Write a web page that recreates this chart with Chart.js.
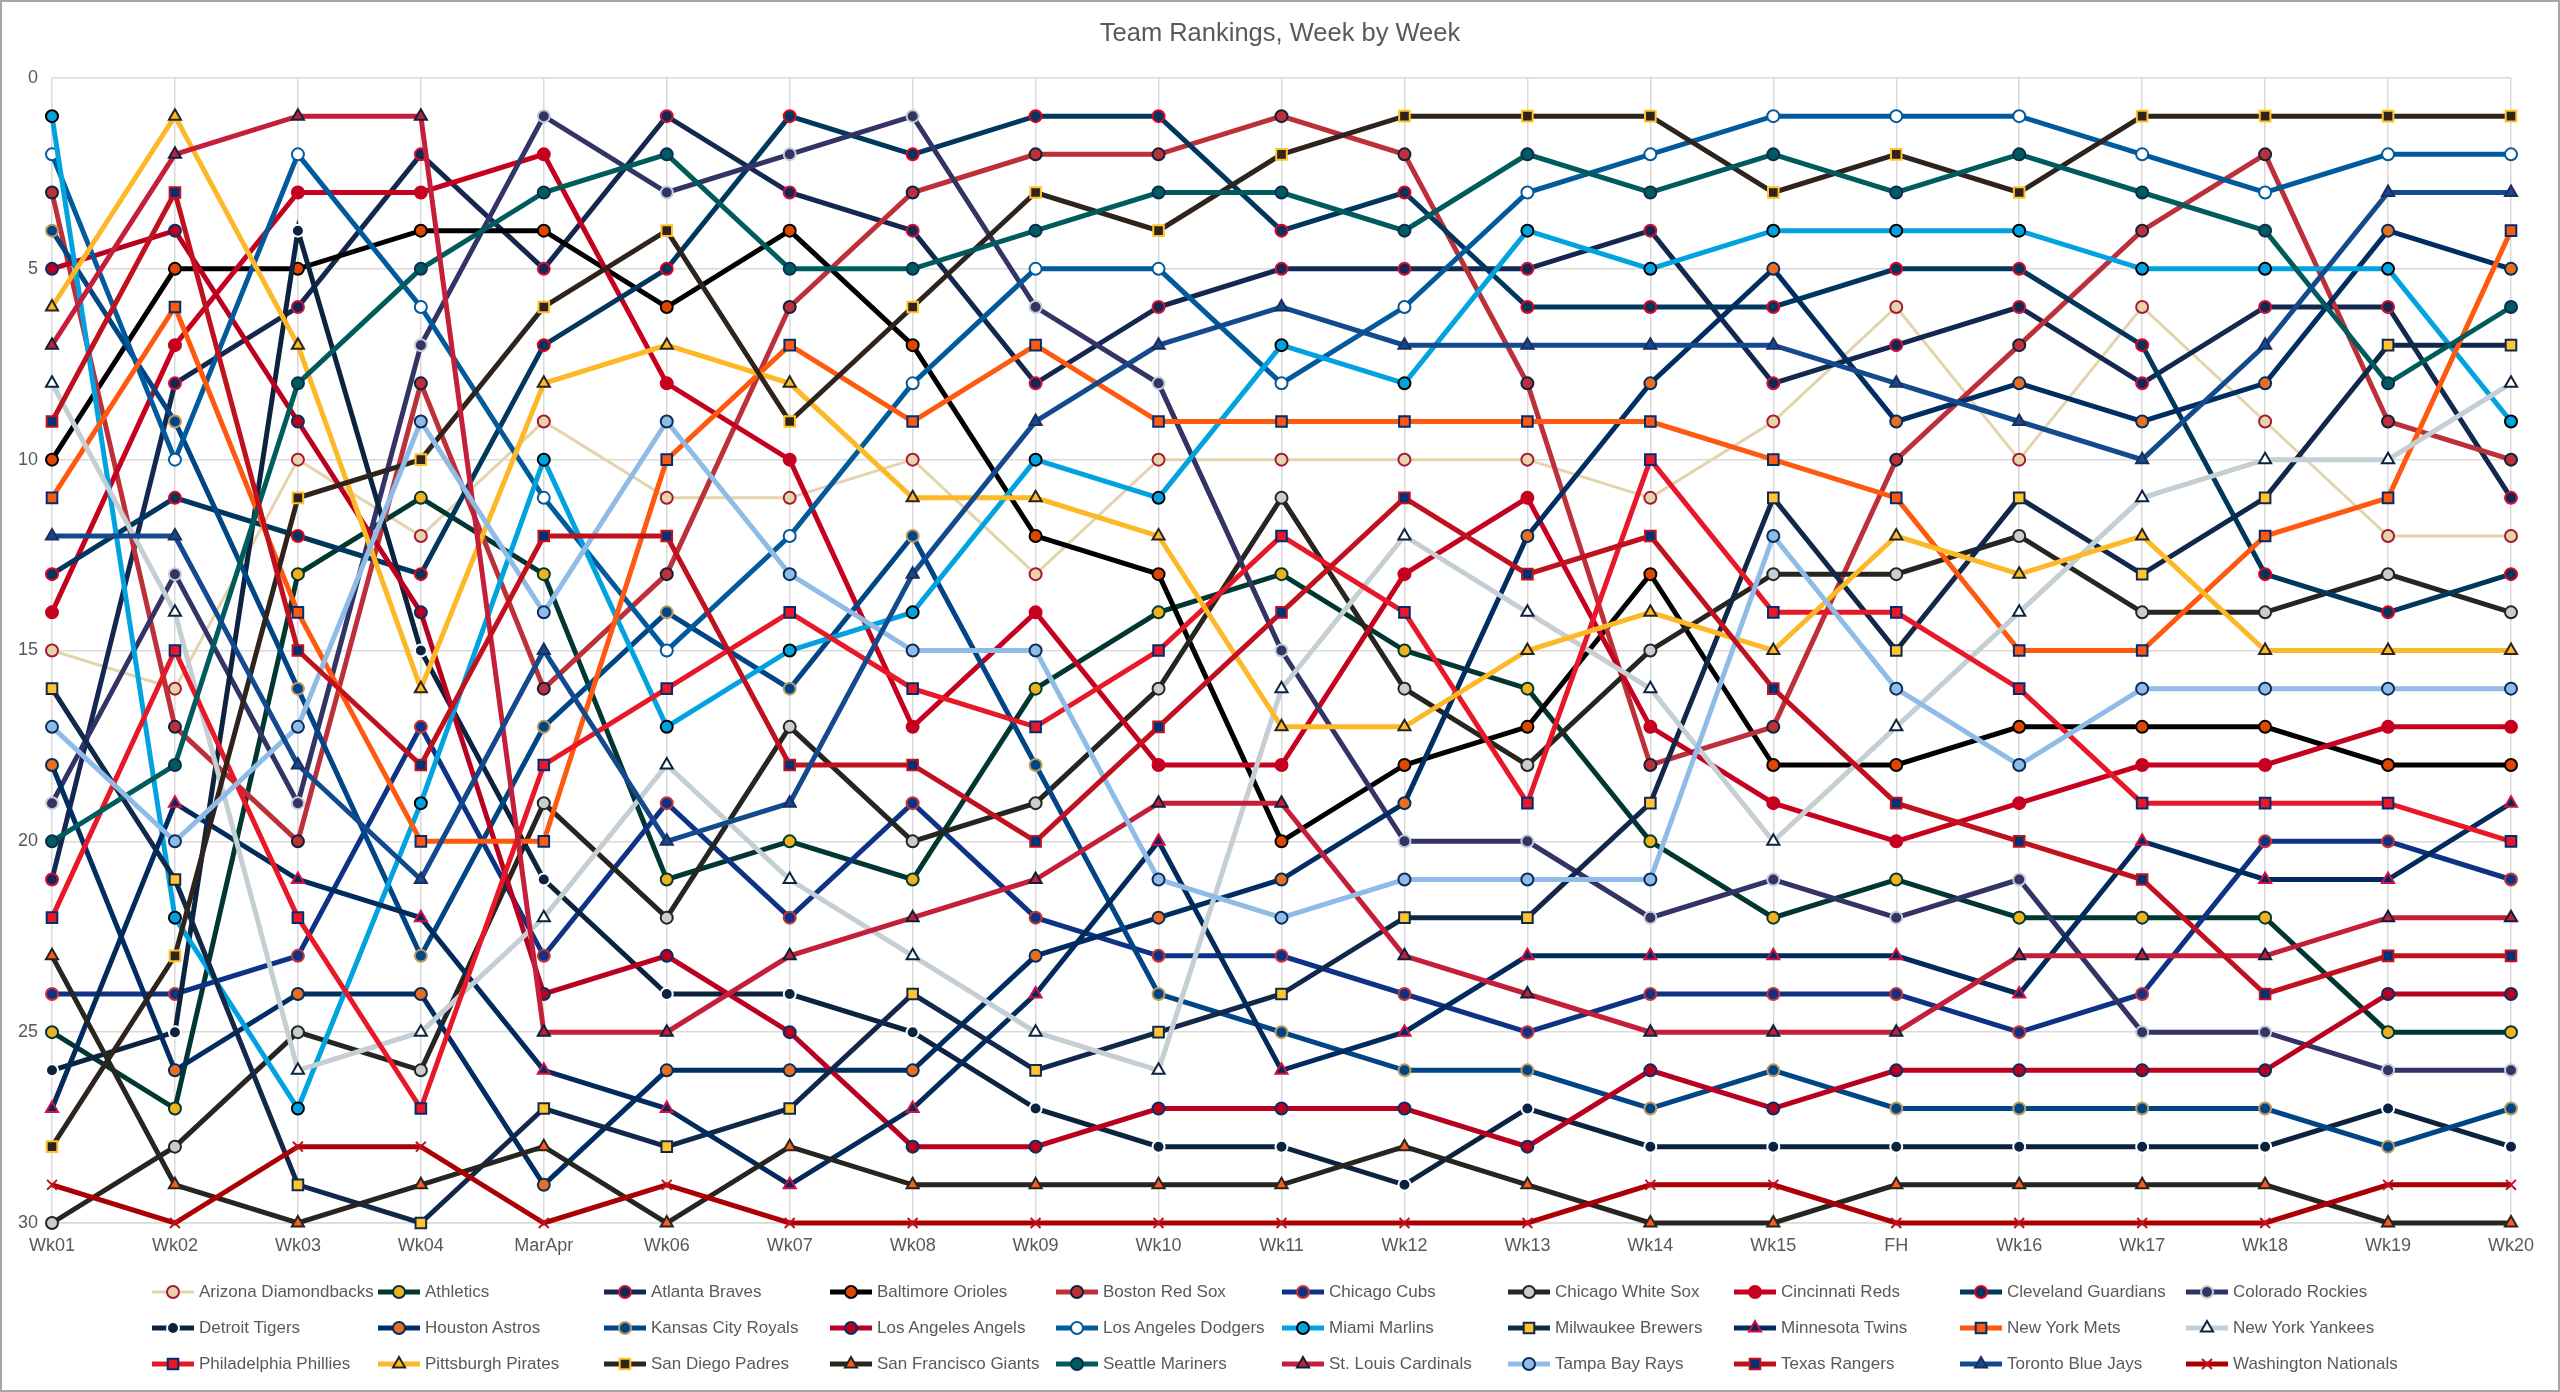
<!DOCTYPE html>
<html>
<head>
<meta charset="utf-8">
<title>Team Rankings, Week by Week</title>
<script src="https://cdn.jsdelivr.net/npm/chart.js@4/dist/chart.umd.min.js"></script>
<style>
  html, body { margin: 0; padding: 0; background: #fff; }
  #wrap { position: relative; width: 2560px; height: 1392px; overflow: hidden; background: #fff; }
  #rankChart { position: absolute; left: 0; top: 0; }
  #frame { position: absolute; left: 0; top: 0; right: 0; bottom: 0; border: 2px solid #a6a6a6; pointer-events: none; }
  #legend { position: absolute; left: 150px; top: 1274px; display: grid; grid-template-columns: repeat(10, 226px); }
  .item { height: 36px; display: flex; align-items: center; white-space: nowrap;
          font: 17px "Liberation Sans Narrow", "Liberation Sans", sans-serif; color: #595959; }
  .item canvas { margin-right: 3px; flex: none; }
</style>
</head>
<body>
<div id="wrap">
  <canvas id="rankChart" width="2560" height="1392"></canvas>
  <div id="legend"></div>
  <div id="frame"></div>
</div>
<script>
// weekly power rankings, 1 = best
const weeks = ['Wk01', 'Wk02', 'Wk03', 'Wk04', 'MarApr', 'Wk06', 'Wk07', 'Wk08', 'Wk09', 'Wk10', 'Wk11',
               'Wk12', 'Wk13', 'Wk14', 'Wk15', 'FH', 'Wk16', 'Wk17', 'Wk18', 'Wk19', 'Wk20'];

const arizona    = [15, 16, 10, 12,  9, 11, 11, 10, 13, 10, 10, 10, 10, 11,  9,  6, 10,  6,  9, 12, 12];
const athletics  = [25, 27, 13, 11, 13, 21, 20, 21, 16, 14, 13, 15, 16, 20, 22, 21, 22, 22, 22, 25, 25];
const atlanta    = [21,  8,  6,  2,  5,  1,  3,  4,  8,  6,  5,  5,  5,  4,  8,  7,  6,  8,  6,  6, 11];
const baltimore  = [10,  5,  5,  4,  4,  6,  4,  7, 12, 13, 20, 18, 17, 13, 18, 18, 17, 17, 17, 18, 18];
const boston     = [ 3, 17, 20,  8, 16, 13,  6,  3,  2,  2,  1,  2,  8, 18, 17, 10,  7,  4,  2,  9, 10];
const cubs       = [24, 24, 23, 17, 23, 19, 22, 19, 22, 23, 23, 24, 25, 24, 24, 24, 25, 24, 20, 20, 21];
const whiteSox   = [30, 28, 25, 26, 19, 22, 17, 20, 19, 16, 11, 16, 18, 15, 13, 13, 12, 14, 14, 13, 14];
const cincinnati = [14,  7,  3,  3,  2,  8, 10, 17, 14, 18, 18, 13, 11, 17, 19, 20, 19, 18, 18, 17, 17];
const cleveland  = [13, 11, 12, 13,  7,  5,  1,  2,  1,  1,  4,  3,  6,  6,  6,  5,  5,  7, 13, 14, 13];
const colorado   = [19, 13, 19,  7,  1,  3,  2,  1,  6,  8, 15, 20, 20, 22, 21, 22, 21, 25, 25, 26, 26];
const detroit    = [26, 25,  4, 15, 21, 24, 24, 25, 27, 28, 28, 29, 27, 28, 28, 28, 28, 28, 28, 27, 28];
const houston    = [18, 26, 24, 24, 29, 26, 26, 26, 23, 22, 21, 19, 12,  8,  5,  9,  8,  9,  8,  4,  5];
const kansasCity = [ 4,  9, 16, 23, 17, 14, 16, 12, 18, 24, 25, 26, 26, 27, 26, 27, 27, 27, 27, 28, 27];
const angels     = [ 5,  4,  9, 14, 24, 23, 25, 28, 28, 27, 27, 27, 28, 26, 27, 26, 26, 26, 26, 24, 24];
const dodgers    = [ 2, 10,  2,  6, 11, 15, 12,  8,  5,  5,  8,  6,  3,  2,  1,  1,  1,  2,  3,  2,  2];
const miami      = [ 1, 22, 27, 19, 10, 17, 15, 14, 10, 11,  7,  8,  4,  5,  4,  4,  4,  5,  5,  5,  9];
const milwaukee  = [16, 21, 29, 30, 27, 28, 27, 24, 26, 25, 24, 22, 22, 19, 11, 15, 11, 13, 11,  7,  7];
const minnesota  = [27, 19, 21, 22, 26, 27, 29, 27, 24, 20, 26, 25, 23, 23, 23, 23, 24, 20, 21, 21, 19];
const mets       = [11,  6, 14, 20, 20, 10,  7,  9,  7,  9,  9,  9,  9,  9, 10, 11, 15, 15, 12, 11,  4];
const yankees    = [ 8, 14, 26, 25, 22, 18, 21, 23, 25, 26, 16, 12, 14, 16, 20, 17, 14, 11, 10, 10,  8];
const phillies   = [22, 15, 22, 27, 18, 16, 14, 16, 17, 15, 12, 14, 19, 10, 14, 14, 16, 19, 19, 19, 20];
const pittsburgh = [ 6,  1,  7, 16,  8,  7,  8, 11, 11, 12, 17, 17, 15, 14, 15, 12, 13, 12, 15, 15, 15];
const sanDiego   = [28, 23, 11, 10,  6,  4,  9,  6,  3,  4,  2,  1,  1,  1,  3,  2,  3,  1,  1,  1,  1];
const giants     = [23, 29, 30, 29, 28, 30, 28, 29, 29, 29, 29, 28, 29, 30, 30, 29, 29, 29, 29, 30, 30];
const seattle    = [20, 18,  8,  5,  3,  2,  5,  5,  4,  3,  3,  4,  2,  3,  2,  3,  2,  3,  4,  8,  6];
const stLouis    = [ 7,  2,  1,  1, 25, 25, 23, 22, 21, 19, 19, 23, 24, 25, 25, 25, 23, 23, 23, 22, 22];
const tampaBay   = [17, 20, 17,  9, 14,  9, 13, 15, 15, 21, 22, 21, 21, 21, 12, 16, 18, 16, 16, 16, 16];
const texas      = [ 9,  3, 15, 18, 12, 12, 18, 18, 20, 17, 14, 11, 13, 12, 16, 19, 20, 21, 24, 23, 23];
const toronto    = [12, 12, 18, 21, 15, 20, 19, 13,  9,  7,  6,  7,  7,  7,  7,  8,  9, 10,  7,  3,  3];
const washington = [29, 30, 28, 28, 30, 29, 30, 30, 30, 30, 30, 30, 30, 29, 29, 30, 30, 30, 30, 29, 29];

const teamNames = ['Arizona Diamondbacks', 'Athletics', 'Atlanta Braves', 'Baltimore Orioles', 'Boston Red Sox',
  'Chicago Cubs', 'Chicago White Sox', 'Cincinnati Reds', 'Cleveland Guardians', 'Colorado Rockies',
  'Detroit Tigers', 'Houston Astros', 'Kansas City Royals', 'Los Angeles Angels', 'Los Angeles Dodgers',
  'Miami Marlins', 'Milwaukee Brewers', 'Minnesota Twins', 'New York Mets', 'New York Yankees',
  'Philadelphia Phillies', 'Pittsburgh Pirates', 'San Diego Padres', 'San Francisco Giants', 'Seattle Mariners',
  'St. Louis Cardinals', 'Tampa Bay Rays', 'Texas Rangers', 'Toronto Blue Jays', 'Washington Nationals'];

const teamRanks = [arizona, athletics, atlanta, baltimore, boston, cubs, whiteSox, cincinnati, cleveland, colorado,
  detroit, houston, kansasCity, angels, dodgers, miami, milwaukee, minnesota, mets, yankees,
  phillies, pittsburgh, sanDiego, giants, seattle, stLouis, tampaBay, texas, toronto, washington];

// line colour, marker fill, marker edge, marker shape
const lineColors = ['#E3D4AD', '#003831', '#13274F', '#000000', '#BD3039', '#0E3386', '#27251F', '#C6011F', '#00385D', '#333366',
  '#0C2340', '#002D62', '#004687', '#BA0021', '#005A9C', '#00A3E0', '#12284B', '#002B5C', '#FF5910', '#C4CED3',
  '#E81828', '#FDB827', '#2F241D', '#27251F', '#005C5C', '#C41E3A', '#8FBCE6', '#C0111F', '#134A8E', '#AB0003'];
const markerFills = ['#E3D4AD', '#EFB21E', '#13274F', '#DF4601', '#BD3039', '#0E3386', '#C4CED4', '#C6011F', '#00385D', '#333366',
  '#0C2340', '#EB6E1F', '#004687', '#BA0021', '#FFFFFF', '#00A3E0', '#FFC52F', '#002B5C', '#FF5910', '#FFFFFF',
  '#E81828', '#FDB827', '#2F241D', '#FD5A1E', '#005C5C', '#C41E3A', '#8FBCE6', '#003278', '#134A8E', '#AB0003'];
const markerEdges = ['#A71930', '#003831', '#CE1141', '#000000', '#0C2340', '#CC3433', '#27251F', '#C6011F', '#E50022', '#C4CED4',
  '#FFFFFF', '#002D62', '#BD9B60', '#003263', '#005A9C', '#000000', '#12284B', '#D31145', '#002D72', '#0C2340',
  '#002D72', '#27251F', '#FFC425', '#27251F', '#0C2C56', '#0C2340', '#092C5C', '#C0111F', '#1D2D5C', '#C0111F'];
const markerShapes = ['circle', 'circle', 'circle', 'circle', 'circle', 'circle', 'circle', 'circle', 'circle', 'circle',
  'circle', 'circle', 'circle', 'circle', 'circle', 'circle', 'rect', 'triangle', 'rect', 'triangle',
  'rect', 'triangle', 'rect', 'triangle', 'circle', 'triangle', 'circle', 'rect', 'triangle', 'crossRot'];

const shapeSize = { circle: 6, rect: 7.5, triangle: 7, crossRot: 7 };
const fontFamily = '"Liberation Sans Narrow", "Liberation Sans", sans-serif';

const datasets = teamNames.map((name, i) => ({
  label: name,
  data: teamRanks[i],
  borderColor: lineColors[i],
  borderWidth: i === 0 ? 3 : 5,
  pointStyle: markerShapes[i],
  pointRadius: shapeSize[markerShapes[i]],
  pointBackgroundColor: markerFills[i],
  pointBorderColor: markerEdges[i],
  pointBorderWidth: 2,
  tension: 0,
  clip: false,
  order: teamNames.length - i
}));

const chart = new Chart(document.getElementById('rankChart').getContext('2d'), {
  type: 'line',
  data: { labels: weeks, datasets },
  options: {
    responsive: false,
    animation: false,
    devicePixelRatio: 1,
    layout: { padding: 0 },
    plugins: {
      legend: { display: false },
      tooltip: { enabled: false },
      title: {
        display: true,
        text: 'Team Rankings, Week by Week',
        color: '#595959',
        font: { family: fontFamily, size: 25.5, weight: 'normal', lineHeight: 1.2 },
        padding: { top: 19, bottom: 28.4 }
      }
    },
    scales: {
      x: {
        offset: false,
        grid: { color: '#d9d9d9', lineWidth: 1.5, drawTicks: false },
        border: { color: '#d9d9d9', width: 1.5 },
        ticks: { color: '#595959', font: { family: fontFamily, size: 18 }, padding: 12, maxRotation: 0, autoSkip: false },
        afterFit: (scale) => { scale.height = 169; }
      },
      y: {
        reverse: true,
        min: 0,
        max: 30,
        grid: { color: '#d9d9d9', lineWidth: 1.5, drawTicks: false },
        border: { display: false },
        ticks: { stepSize: 5, color: '#595959', font: { family: fontFamily, size: 18 }, padding: 14 },
        afterFit: (scale) => { scale.width = 52; }
      },
      // empty right-hand spacer so the title stays centred on the canvas
      yRight: {
        position: 'right',
        reverse: true,
        min: 0,
        max: 30,
        grid: { display: false },
        border: { display: false },
        ticks: { display: false },
        afterFit: (scale) => { scale.width = 49; }
      }
    }
  }
});

// legend in a 10-column grid, samples drawn with Chart.js point helper
const legendBox = document.getElementById('legend');
teamNames.forEach((name, i) => {
  const item = document.createElement('div');
  item.className = 'item';
  const sample = document.createElement('canvas');
  sample.width = 46;
  sample.height = 24;
  const ctx = sample.getContext('2d');
  ctx.strokeStyle = lineColors[i];
  ctx.lineWidth = i === 0 ? 3 : 5;
  ctx.beginPath();
  ctx.moveTo(2, 12);
  ctx.lineTo(44, 12);
  ctx.stroke();
  ctx.fillStyle = markerFills[i];
  ctx.strokeStyle = markerEdges[i];
  ctx.lineWidth = 2;
  Chart.helpers.drawPoint(ctx, { pointStyle: markerShapes[i], radius: shapeSize[markerShapes[i]], rotation: 0, borderWidth: 2 }, 23, 12);
  const label = document.createElement('span');
  label.textContent = name;
  item.appendChild(sample);
  item.appendChild(label);
  legendBox.appendChild(item);
});
</script>
</body>
</html>
